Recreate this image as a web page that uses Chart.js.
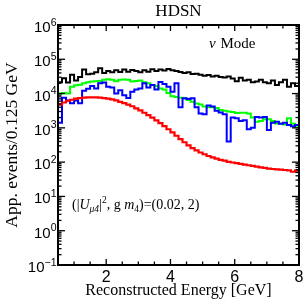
<!DOCTYPE html>
<html><head><meta charset="utf-8">
<script src="https://cdn.jsdelivr.net/npm/chart.js@4.4.0/dist/chart.umd.min.js"></script>
<style>html,body{margin:0;padding:0;background:#fff;}canvas{display:block;}</style>
</head><body>
<canvas id="c" width="307" height="307"></canvas>
<script>
// Reconstructed-energy bin edges (GeV), 0.125 GeV bins
const binEdges = [0.5,0.625,0.75,0.875,1,1.125,1.25,1.375,1.5,1.625,1.75,1.875,2,2.125,2.25,2.375,2.5,2.625,2.75,2.875,3,3.125,3.25,3.375,3.5,3.625,3.75,3.875,4,4.125,4.25,4.375,4.5,4.625,4.75,4.875,5,5.125,5.25,5.375,5.5,5.625,5.75,5.875,6,6.125,6.25,6.375,6.5,6.625,6.75,6.875,7,7.125,7.25,7.375,7.5,7.625,7.75,7.875,8];

const blackEvents = [21380,28180,20890,35480,23990,30200,50120,36310,38020,41690,54950,39810,45710,41690,47860,42660,50120,43650,48980,45710,41690,47860,43650,51290,45710,50120,46770,52480,47860,45710,42660,39810,41690,37150,38020,35480,33110,34670,31620,33110,30200,29510,31620,27540,22910,28840,23990,25120,21380,22390,25120,21380,19950,23990,17780,21380,25120,15850,19950,16600];

const greenEvents = [10000,10470,10000,15850,17380,18200,19950,21380,22390,22910,23440,25120,26300,25120,22910,25120,25700,25120,22390,23440,23990,21380,19950,17780,16600,14130,13180,10470,8318,7943,7586,7244,6457,5754,5129,4786,4169,3981,3981,3802,3311,3162,3020,2884,2692,2754,2754,2630,1995,1514,1585,1778,1778,1585,1349,1349,1259,1905,1318,1047];

const blueEvents = [1413,7586,6310,5248,6310,5248,12020,13800,16600,14130,19950,20890,15850,15140,10000,12590,8913,7413,11220,13180,14130,19950,15140,17780,13180,21880,19050,15850,11220,19950,3981,7244,6918,7244,3981,2630,2512,4467,4169,3162,2818,2512,398,1995,1905,1585,1660,912,1000,2089,1995,2089,871,1413,1514,1318,1413,1202,1122,1202];

const redEvents = [4786,5495,6166,6607,7079,7413,7586,7762,7762,7762,7586,7413,7079,6761,6310,5754,5248,4786,4266,3715,3236,2754,2344,1995,1660,1380,1122,912,741,589,468,380,309,257,219,191,170,151,138,126,117,110,102,97.7,93.3,89.1,85.1,81.3,77.6,74.1,70.8,67.6,64.6,63.1,61.7,60.3,58.9,57.5,52.5,56.2];

const xTickLabels = [2,4,6,8];
const xMinorTicks = [1,1.5,2.5,3,3.5,4.5,5,5.5,6.5,7,7.5];
const xMajorTicks = [2,4,6];
const yDecades = [-1,0,1,2,3,4,5,6];

function steps(vals){
  const pts = vals.map((v,i)=>({x:binEdges[i], y:v}));
  pts.push({x:binEdges[vals.length], y:vals[vals.length-1]});
  return pts;
}

const SANS = '"Liberation Sans", Arial, sans-serif';
const SERIF = '"Liberation Serif", "Times New Roman", serif';

const decorations = {
  id:'decorations',
  afterDraw(chart){
    const {ctx, chartArea:a, scales:{x, y}} = chart;
    ctx.save();
    ctx.strokeStyle = '#000';
    ctx.fillStyle = '#000';
    ctx.lineWidth = 1.3;
    const tick = (x1,y1,x2,y2)=>{ctx.beginPath();ctx.moveTo(x1,y1);ctx.lineTo(x2,y2);ctx.stroke();};
    for (const v of xMinorTicks){ const px=x.getPixelForValue(v); tick(px,a.bottom,px,a.bottom-3.5); tick(px,a.top,px,a.top+3.5); }
    for (const v of xMajorTicks){ const px=x.getPixelForValue(v); tick(px,a.bottom,px,a.bottom-6); tick(px,a.top,px,a.top+6); }
    for (let n=-1;n<6;n++){
      for (let k=2;k<=9;k++){
        const py=y.getPixelForValue(k*Math.pow(10,n));
        tick(a.left,py,a.left+3.5,py); tick(a.right,py,a.right-3.5,py);
      }
      if (n>=0){ const py=y.getPixelForValue(Math.pow(10,n)); tick(a.left,py,a.left+7,py); tick(a.right,py,a.right-7,py); }
    }
    ctx.lineWidth = 2;
    ctx.strokeRect(a.left, a.top, a.right-a.left, a.bottom-a.top);
    for (const n of yDecades){
      const py = y.getPixelForValue(Math.pow(10,n));
      const ex = n<0 ? '\u2212'+(-n) : String(n);
      ctx.font = '10.5px '+SANS;
      const ew = ctx.measureText(ex).width;
      ctx.textAlign='left'; ctx.textBaseline='alphabetic';
      ctx.fillText(ex, a.left-1.5-ew, py+0.5);
      ctx.font = '15px '+SANS;
      ctx.textAlign='right';
      ctx.fillText('10', a.left-1.5-ew, py+7);
    }
    ctx.font = '17px '+SERIF;
    ctx.textAlign='center';
    ctx.fillText('HDSN', (a.left+a.right)/2, 16);
    ctx.textAlign='left';
    ctx.font = 'italic 15px '+SERIF;
    ctx.fillText('\u03bd', 209, 48);
    const nuW = ctx.measureText('\u03bd ').width;
    ctx.font = '15px '+SERIF;
    ctx.fillText('Mode', 209+nuW+1, 48);
    const parts = [
      ['(|', '', 14, 0],
      ['U', 'italic ', 14, 0],
      ['\u03bc4', 'italic ', 9.5, 3],
      ['|', '', 14, 0],
      ['2', '', 9.5, -6],
      [', g ', '', 14, 0],
      ['m', 'italic ', 14, 0],
      ['4', '', 9.5, 3],
      [')=(0.02, 2)', '', 14, 0]
    ];
    let cx = 72;
    for (const [t, st, sz, dy] of parts){
      ctx.font = st+sz+'px '+SERIF;
      ctx.fillText(t, cx, 209+dy);
      cx += ctx.measureText(t).width;
    }
    ctx.restore();
  }
};

const ds = (data, color, w)=>({data: steps(data), borderColor: color, borderWidth: w, stepped: true, pointRadius: 0, fill: false, tension: 0});

new Chart(document.getElementById('c'), {
  type:'line',
  data:{datasets:[
    ds(redEvents, '#ff0000', 2.2),
    ds(blueEvents, '#0000ff', 2),
    ds(greenEvents, '#00ff00', 2),
    ds(blackEvents, '#000000', 2)
  ]},
  options:{
    responsive:false, animation:false, devicePixelRatio:1,
    layout:{padding:{top:25, right:8, left:0, bottom:0}},
    plugins:{legend:{display:false}, tooltip:{enabled:false}, title:{display:false}},
    scales:{
      x:{type:'linear', min:0.5, max:8,
        grid:{display:false, drawTicks:false}, border:{display:false},
        afterBuildTicks:s=>{ s.ticks = xTickLabels.map(v=>({value:v})); },
        ticks:{font:{family:SANS, size:16}, color:'#000', padding:3, maxRotation:0, autoSkip:false},
        title:{display:true, text:'Reconstructed Energy [GeV]', font:{family:SERIF, size:16}, color:'#000', padding:{top:0, bottom:7}},
        afterFit:s=>{ s.height = 42; }
      },
      y:{type:'logarithmic', min:0.1, max:1e6,
        grid:{display:false, drawTicks:false}, border:{display:false},
        ticks:{display:false},
        title:{display:true, text:'App. events/0.125 GeV', font:{family:SERIF, size:17.5}, color:'#000', padding:{top:2, bottom:0}},
        afterFit:s=>{ s.width = 58; }
      }
    }
  },
  plugins:[decorations]
});
</script>
</body></html>
